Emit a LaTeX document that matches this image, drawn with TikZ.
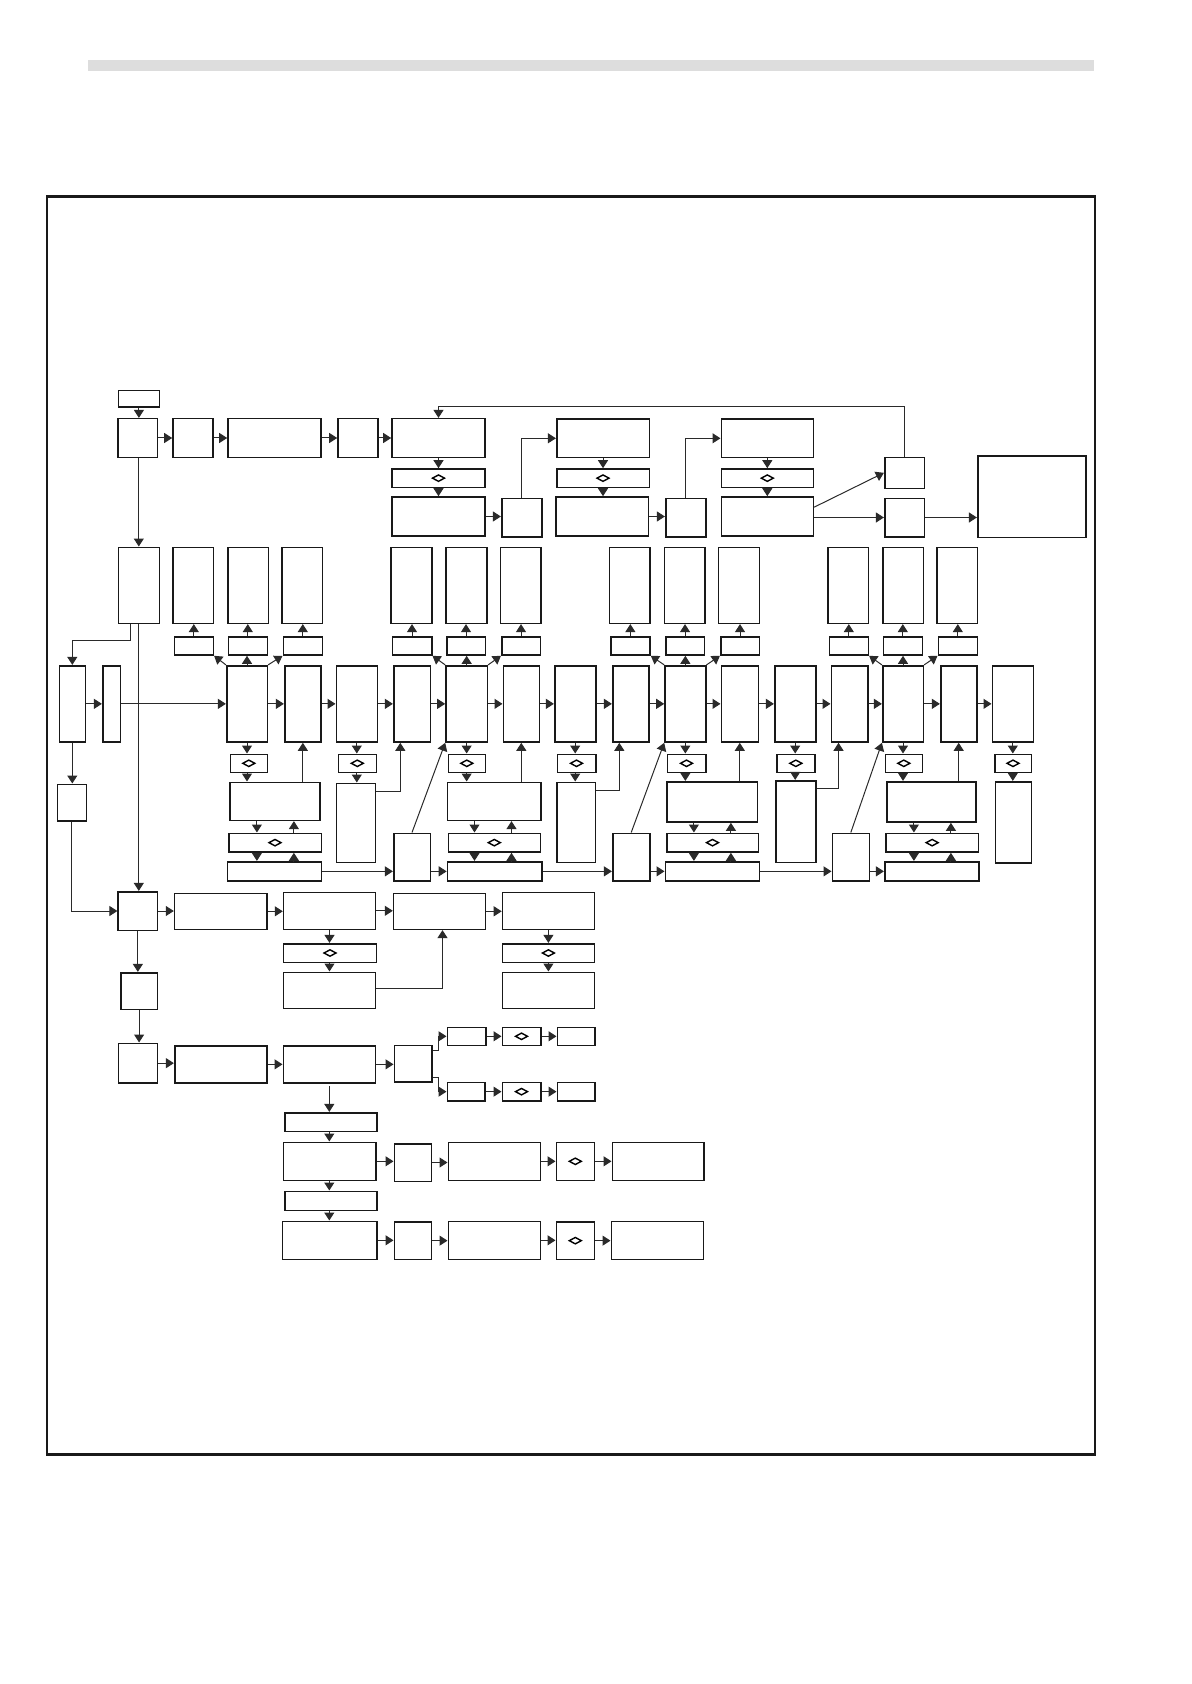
\documentclass[tikz,border=0pt]{standalone}
\usetikzlibrary{arrows.meta,calc}
\definecolor{barc}{HTML}{DDDDDD}
\definecolor{lnc}{HTML}{2A2A2A}
\tikzset{
 bx/.style={draw=black!90, line width=0.8pt, fill=white, inner sep=0pt, rectangle},
 dbx/.style={bx, path picture={\draw[line width=0.7pt,black] (path picture bounding box.center) ++(-3pt,0) -- ++(3pt,1.6pt) -- ++(3pt,-1.6pt) -- ++(-3pt,-1.6pt) -- cycle;}},
 arr/.style={draw=lnc, line width=0.5pt, -{Triangle[length=4pt,width=5pt]}},
 ln/.style={draw=lnc, line width=0.5pt},
}
\newcommand\Bx[6][]{\node[bx,#1,minimum width={((#5)-(#3))*0.5pt},minimum height={((#6)-(#4))*0.5pt}] (#2) at ({((#3)+(#5))/2},{((#4)+(#6))/2}) {};}
\newcommand\Quad[3]{%
 \draw[arr] ([xshift=14pt]#1.south west) -- ([xshift=14pt]#1.south west |- #2.north);
 \draw[arr] ([xshift=32.5pt]#1.south west |- #2.north) -- ([xshift=32.5pt]#1.south west);
 \draw[arr] ([xshift=14pt]#1.south west |- #2.south) -- ([xshift=14pt]#1.south west |- #3.north);
 \draw[arr] ([xshift=32.5pt]#1.south west |- #3.north) -- ([xshift=32.5pt]#1.south west |- #2.south);}
\begin{document}
\begin{tikzpicture}[x=0.5pt,y=-0.5pt]
\useasboundingbox (0,0) rectangle (1191,1684);
\fill[barc] (88,60) rectangle (1094,71);
\draw[line width=1.1pt,black!90] (47,196.5) rectangle (1095,1454.5);

% ---------- row 1 ----------
\Bx{st}{118.5}{390.7}{159.3}{407.3}
\Bx{A}{118}{418.7}{157.5}{457.3}
\Bx{B}{173}{418.7}{213}{457.3}
\Bx{C}{228}{418.7}{321}{457.3}
\Bx{D}{338}{418.7}{378}{457.3}
\Bx{E}{392}{418.7}{485}{457.3}
\Bx[dbx]{Ed}{392}{469}{485}{487.3}
\Bx{El}{392}{497}{485}{536}
\Bx{F}{501.7}{498.3}{541.7}{536.7}
\Bx{G}{556.7}{419.3}{649.3}{457.3}
\Bx[dbx]{Gd}{556.7}{469}{649.3}{487.3}
\Bx{Gl}{556}{497}{648.3}{536}
\Bx{H}{665.7}{498.3}{705.7}{536.7}
\Bx{I}{721.3}{419.3}{813.3}{457.3}
\Bx[dbx]{Id}{721.3}{469}{813.3}{487.3}
\Bx{Il}{721.3}{497}{813.3}{536}
\Bx{J}{884.7}{457.3}{924.3}{488.3}
\Bx{K}{884.7}{498.3}{924.3}{536.7}
\Bx{L}{977.7}{455.7}{1085.7}{537.3}

\draw[arr] (st.south) -- (st.south |- A.north);
\draw[arr] (A.east) -- (B.west);
\draw[arr] (B.east) -- (C.west);
\draw[arr] (C.east) -- (D.west);
\draw[arr] (D.east) -- (E.west);
\draw[arr] (E.south) -- (Ed.north);
\draw[arr] (Ed.south) -- (El.north);
\draw[arr] (El.east) -- (El.east -| F.west);
\draw[arr] (F.north) |- (G.west);
\draw[arr] (G.south) -- (G.south |- Gd.north);
\draw[arr] (G.south |- Gd.south) -- (G.south |- Gl.north);
\draw[arr] (Gl.east) -- (Gl.east -| H.west);
\draw[arr] (H.north) |- (I.west);
\draw[arr] (I.south) -- (Id.north);
\draw[arr] (Id.south) -- (Il.north);
\draw[arr] ([yshift=-5.5pt]Il.north east) -- (J.west);
\draw[arr] (K.west -| Il.east) -- (K.west);
\draw[arr] (K.east) -- (K.east -| L.west);
\coordinate (loop) at (0,407);
\draw[arr] (J.north) -- (J.north |- loop) -| (E.north);

% ---------- row 2 (tall boxes) ----------
\Bx{M}{118.3}{547.3}{159.3}{623.3}
\Bx{t1}{173}{547.3}{213.5}{623.3}
\Bx{t2}{228}{547.3}{268.3}{623.3}
\Bx{t3}{281.7}{547.3}{322.3}{623.3}
\Bx{t4}{390.7}{547.3}{431.7}{623.3}
\Bx{t5}{446}{547.3}{486.7}{623.3}
\Bx{t6}{500.3}{547.3}{541}{623.3}
\Bx{t7}{609.3}{547.3}{650}{623.3}
\Bx{t8}{664.3}{547.3}{705}{623.3}
\Bx{t9}{718.3}{547.3}{759.3}{623.3}
\Bx{t10}{827.7}{547.3}{868.3}{623.3}
\Bx{t11}{882.7}{547.3}{923.3}{623.3}
\Bx{t12}{936.7}{547.3}{977.3}{623.3}

\Bx{s1}{174.3}{636.7}{213.3}{655}
\Bx{s2}{228.3}{636.7}{267.3}{655}
\Bx{s3}{283.3}{636.7}{322.3}{655}
\Bx{s4}{392.3}{636.7}{431.7}{655}
\Bx{s5}{446.7}{636.7}{485.3}{655}
\Bx{s6}{501.7}{636.7}{540.3}{655}
\Bx{s7}{610.7}{636.7}{650}{655}
\Bx{s8}{665.7}{636.7}{704.3}{655}
\Bx{s9}{720.7}{636.7}{759.3}{655}
\Bx{s10}{829.3}{636.7}{868.3}{655}
\Bx{s11}{883.3}{636.7}{922.3}{655}
\Bx{s12}{938.3}{636.7}{977.3}{655}

% ---------- row 3 (main) ----------
\Bx{N}{59.3}{665.7}{85.3}{742}
\Bx{O}{102.7}{665.7}{120.3}{742}
\Bx{P1}{226.7}{665.7}{267.3}{742}
\Bx{P2}{284.7}{665.7}{321}{742}
\Bx{P3}{336.3}{665.7}{377.3}{742}
\Bx{P4}{393.7}{665.7}{430.3}{742}
\Bx{P5}{446}{665.7}{487.3}{742}
\Bx{P6}{503.3}{665.7}{539.3}{742}
\Bx{P7}{554.7}{665.7}{595.7}{742}
\Bx{P8}{612.7}{665.7}{648.7}{742}
\Bx{P9}{665}{665.7}{705.7}{742}
\Bx{P10}{721.3}{665.7}{758.3}{742}
\Bx{P11}{774.7}{665.7}{815.7}{742}
\Bx{P12}{831.3}{665.7}{867.7}{742}
\Bx{P13}{882.7}{665.7}{923.3}{742}
\Bx{P14}{940.7}{665.7}{976.7}{742}
\Bx{P15}{992.3}{665.7}{1033.3}{742}

\Bx{Q}{57.3}{784.3}{86.3}{821}

\Bx[dbx]{d1}{230.3}{754.3}{267.3}{772.3}
\Bx{R1}{229.7}{782.3}{320}{820.3}
\Bx[dbx]{w1}{228.7}{833.3}{321.3}{852}
\Bx{b1}{227.3}{861.7}{321.3}{881}
\Bx[dbx]{d2}{338.3}{754.3}{376.3}{772.3}
\Bx{S1}{336.3}{783.3}{375.3}{862.3}
\Bx{T1}{393.7}{833.3}{430.3}{881}
\Bx[dbx]{d3}{448.3}{754.3}{485.3}{772.3}
\Bx{R2}{447.3}{782.3}{541}{820.3}
\Bx[dbx]{w2}{448.3}{833.3}{540.3}{852}
\Bx{b2}{447.5}{861.7}{541.8}{881}
\Bx[dbx]{d4}{557.3}{754.3}{595.7}{772.3}
\Bx{S2}{556.7}{782.3}{595.3}{862.3}
\Bx{T2}{612.7}{833.3}{649.7}{881}
\Bx[dbx]{d5}{667.3}{754.3}{705.7}{772.3}
\Bx{R3}{666.7}{781.7}{757.3}{822}
\Bx[dbx]{w3}{666.7}{833.3}{758.3}{852}
\Bx{b3}{665.3}{861.7}{759.3}{881}
\Bx[dbx]{d6}{776.7}{754.3}{815}{772.3}
\Bx{S3}{775.7}{780.7}{815.7}{862.3}
\Bx{T3}{832.3}{833.3}{869.3}{881}
\Bx[dbx]{d7}{885.3}{754.3}{922.3}{772.3}
\Bx{R4}{886.7}{781.7}{976}{822}
\Bx[dbx]{w4}{886}{833.3}{978.3}{852}
\Bx{b4}{884.7}{861.7}{978.7}{881}
\Bx[dbx]{d8}{994.7}{754.3}{1031.3}{772.3}
\Bx{S4}{995.3}{781.7}{1031.3}{862.7}

% main row arrows
\draw[arr] (N.east) -- (O.west);
\draw[arr] (O.east) -- (P1.west);
\foreach \a/\b in {P1/P2,P2/P3,P3/P4,P4/P5,P5/P6,P6/P7,P7/P8,P8/P9,P9/P10,P10/P11,P11/P12,P12/P13,P13/P14,P14/P15}
  \draw[arr] (\a.east) -- (\b.west);

% fan-out groups
\foreach \p/\x/\y/\z in {P1/1/2/3,P5/4/5/6,P9/7/8/9,P13/10/11/12}{
  \draw[arr] (\p.north west) -- (s\x.south east);
  \draw[arr] (\p.north) -- (\p.north |- s\y.south);
  \draw[arr] (\p.north east) -- (s\z.south west);
}
\foreach \i in {1,...,12}
  \draw[arr] (s\i.north) -- (s\i.north |- t\i.south);

% lower part of row 3
\foreach \p/\d/\r in {P1/d1/R1,P3/d2/S1,P5/d3/R2,P7/d4/S2,P9/d5/R3,P11/d6/S3,P13/d7/R4,P15/d8/S4}{
  \draw[arr] (\p.south) -- (\p.south |- \d.north);
  \draw[arr] (\p.south |- \d.south) -- (\p.south |- \r.north);
}
\Quad{R1}{w1}{b1}
\Quad{R2}{w2}{b2}
\Quad{R3}{w3}{b3}
\Quad{R4}{w4}{b4}
\draw[arr] (R1.north -| P2.south) -- (P2.south);
\draw[arr] (R2.north -| P6.south) -- (P6.south);
\draw[arr] (R3.north -| P10.south) -- (P10.south);
\draw[arr] (R4.north -| P14.south) -- (P14.south);
\draw[arr] ([yshift=-4.5pt]S1.north east) -| ([xshift=3.7pt]P4.south west);
\draw[arr] ([yshift=-4.5pt]S2.north east) -| ([xshift=3.7pt]P8.south west);
\draw[arr] ([yshift=-4.5pt]S3.north east) -| ([xshift=4pt]P12.south west);
\draw[arr] (b1.east) -- (b1.east -| T1.west);
\draw[arr] (T1.east |- b2.west) -- (b2.west);
\draw[arr] (b2.east) -- (b2.east -| T2.west);
\draw[arr] (T2.east |- b3.west) -- (b3.west);
\draw[arr] (b3.east) -- (b3.east -| T3.west);
\draw[arr] (T3.east |- b4.west) -- (b4.west);
\draw[arr] (T1.north) -- (P5.south west);
\draw[arr] (T2.north) -- (P9.south west);
\draw[arr] (T3.north) -- (P13.south west);

% ---------- row 4 ----------
\Bx{U}{118.2}{891.7}{157.5}{930.3}
\Bx{V}{174.6}{893.3}{266.8}{929.3}
\Bx{W}{283.6}{892.3}{375.4}{929.3}
\Bx{X}{393.6}{893.3}{485.4}{929.3}
\Bx{Y}{502.5}{892.3}{594.3}{929.3}
\Bx[dbx]{Wd}{283.6}{943.7}{376.4}{962.3}
\Bx{W2}{283.6}{972.3}{375.4}{1008.3}
\Bx[dbx]{Yd}{502.5}{943.7}{594.3}{962.3}
\Bx{Y2}{502.5}{972.3}{594.3}{1008.3}
\Bx{U2}{120.7}{972.7}{157.5}{1009.3}

% left side connectors
\draw[arr] (M.north |- A.south) -- (M.north);
\coordinate (mj) at (130.7,640.7);
\draw[arr] (M.south -| mj) -- (mj) -| (N.north);
\draw[arr] (M.south) -- (M.south |- U.north);
\draw[arr] (N.south) -- (N.south |- Q.north);
\draw[arr] (Q.south) |- (U.west);

\draw[arr] (U.east) -- (U.east -| V.west);
\draw[arr] (V.east) -- (V.east -| W.west);
\draw[arr] (W.east) -- (W.east -| X.west);
\draw[arr] (X.east) -- (X.east -| Y.west);
\draw[arr] (W.south) -- (W.south |- Wd.north);
\draw[arr] (W.south |- Wd.south) -- (W.south |- W2.north);
\draw[arr] (Y.south) -- (Y.south |- Yd.north);
\draw[arr] (Y.south |- Yd.south) -- (Y.south |- Y2.north);
\draw[arr] ([yshift=-8.5pt]W2.north east) -| ([xshift=1.5pt]X.south);
\draw[arr] (U.south) -- (U.south |- U2.north);

% ---------- row 5 ----------
\Bx{Z}{118.3}{1043.3}{157.3}{1083}
\Bx{AA}{174.7}{1045.7}{266.7}{1083}
\Bx{AB}{283.3}{1045.7}{375.3}{1083}
\Bx{AC}{394.3}{1045.3}{431.7}{1082}
\Bx{e1}{447.3}{1027.3}{485.7}{1045.3}
\Bx[dbx]{e2}{502.3}{1027.3}{540.7}{1045.3}
\Bx{e3}{557.3}{1027.3}{594.7}{1045.3}
\Bx{f1}{447.3}{1082.3}{484.7}{1101}
\Bx[dbx]{f2}{502.3}{1082.3}{540.7}{1101}
\Bx{f3}{557.3}{1082.3}{594.7}{1101}
\Bx{AD}{285}{1112.7}{376.7}{1131.5}
\Bx{AE}{283.3}{1142.3}{375.7}{1180.3}
\Bx{AF}{394.3}{1143.7}{431.3}{1181.3}
\Bx{AG}{448.3}{1142.3}{540.3}{1180.3}
\Bx[dbx]{AH}{556.3}{1142.3}{594.3}{1180.3}
\Bx{AI}{612.3}{1142.3}{704}{1180.3}
\Bx{AJ}{285}{1191.3}{376.7}{1210.3}
\Bx{AK}{282.3}{1221.3}{376.7}{1259.3}
\Bx{AL}{394.3}{1222}{431.3}{1259.3}
\Bx{AM}{448.3}{1221.3}{540.3}{1259.3}
\Bx[dbx]{AN}{556.3}{1222}{594.3}{1259.3}
\Bx{AO}{611.3}{1221.3}{703.3}{1259.3}

\draw[arr] (U2.south) -- (U2.south |- Z.north);
\draw[arr] (Z.east) -- (Z.east -| AA.west);
\draw[arr] (AA.east) -- (AA.east -| AB.west);
\draw[arr] (AB.east) -- (AB.east -| AC.west);
\draw[arr] ([yshift=-3pt]AC.north east) -- ++(3pt,0) |- (e1.west);
\draw[arr] ([yshift=2.5pt]AC.south east) -- ++(3pt,0) |- (f1.west);
\draw[arr] (e1.east) -- (e2.west);
\draw[arr] (e2.east) -- (e3.west);
\draw[arr] (f1.east) -- (f2.west);
\draw[arr] (f2.east) -- (f3.west);
\draw[arr] ([yshift=-1pt]AB.south) -- (AB.south |- AD.north);
\draw[arr] (AB.south |- AD.south) -- (AB.south |- AE.north);
\draw[arr] (AB.south |- AE.south) -- (AB.south |- AJ.north);
\draw[arr] (AB.south |- AJ.south) -- (AB.south |- AK.north);
\draw[arr] (AE.east) -- (AE.east -| AF.west);
\draw[arr] (AF.east) -- (AF.east -| AG.west);
\draw[arr] (AG.east) -- (AG.east -| AH.west);
\draw[arr] (AH.east) -- (AH.east -| AI.west);
\draw[arr] (AK.east) -- (AK.east -| AL.west);
\draw[arr] (AL.east) -- (AL.east -| AM.west);
\draw[arr] (AM.east) -- (AM.east -| AN.west);
\draw[arr] (AN.east) -- (AN.east -| AO.west);
\end{tikzpicture}
\end{document}
